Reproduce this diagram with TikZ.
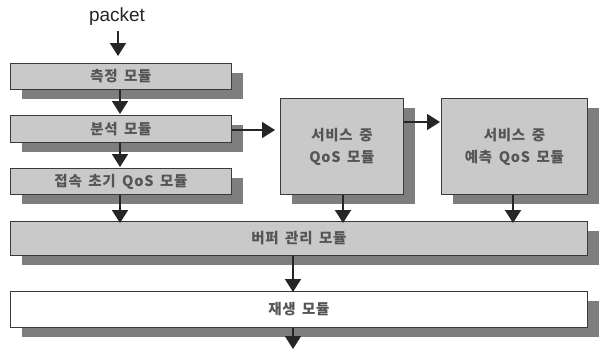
\documentclass[tikz,border=0pt]{standalone}
\usepackage{fontspec}
\newfontfamily\kr[LetterSpace=5,WordSpace=1.6]{Noto Sans CJK KR}
\newfontfamily\lat{Liberation Sans}
\usetikzlibrary{arrows.meta,shadows,positioning}
\definecolor{boxfill}{HTML}{C9C9C9}
\definecolor{shadowgray}{HTML}{7E7E7E}
\definecolor{txtgray}{HTML}{555555}
\definecolor{edgegray}{HTML}{3A3A3A}
\begin{document}
\begin{tikzpicture}[x=1pt,y=-1pt,
  modbox/.style={draw=edgegray, line width=0.9pt, fill=boxfill, anchor=north west,
    inner sep=0pt, align=center, text=txtgray, font=\kr\bfseries\fontsize{14.5}{22}\selectfont,
    drop shadow={shadow xshift=12pt, shadow yshift=-10pt, fill=shadowgray, opacity=1, draw=none}},
  flow/.style={draw=black!85, line width=1.8pt, -{Triangle[width=16pt,length=13pt]}}
]
\useasboundingbox (0,0) rectangle (602,349);
\fill[white] (0,0) rectangle (602,349);
\node[font=\lat\fontsize{19}{20}\selectfont, text=black!85] (pk) at (117,17) {packet};
\node[modbox, minimum width=221pt, minimum height=26pt] (m1) at (10,63) {측정 모듈};
\node[modbox, minimum width=221pt, minimum height=27pt] (m2) at (10,115) {분석 모듈};
\node[modbox, minimum width=221pt, minimum height=26pt] (m3) at (10,168) {접속 초기 QoS 모듈};
\node[modbox, minimum width=123pt, minimum height=96pt] (m4) at (280,98) {서비스 중\\QoS 모듈};
\node[modbox, minimum width=146pt, minimum height=96pt] (m5) at (441,98) {서비스 중\\예측 QoS 모듈};
\node[modbox, minimum width=577pt, minimum height=34pt] (buf) at (10,221) {버퍼 관리 모듈};
\node[modbox, fill=white, minimum width=577pt, minimum height=36pt] (play) at (10,291) {재생 모듈};
\coordinate (out) at (293,349);
\coordinate (a0) at (118,31);
\coordinate (a0t) at (118,56);
\draw[flow] (a0) -- (a0t);
\draw[flow] (m1.south -| 120,0) -- (120,114);
\draw[flow] (m2.south -| 120,0) -- (120,167);
\draw[flow] (m3.south -| 120,0) -- ([yshift=-2pt]buf.north -| 120,0);
\draw[flow] (m4.south -| 343,0) -- ([yshift=-2pt]buf.north -| 343,0);
\draw[flow] (m5.south -| 513,0) -- ([yshift=-2pt]buf.north -| 513,0);
\draw[flow] (m2.east |- 0,130) -- ([xshift=-5pt]m4.west |- 0,130);
\draw[flow] (m4.east |- 0,122) -- ([xshift=-1pt]m5.west |- 0,122);
\draw[flow] (buf.south -| 293,0) -- ([yshift=-1pt]play.north -| 293,0);
\draw[flow] (play.south -| 293,0) -- (out);
\end{tikzpicture}
\end{document}
